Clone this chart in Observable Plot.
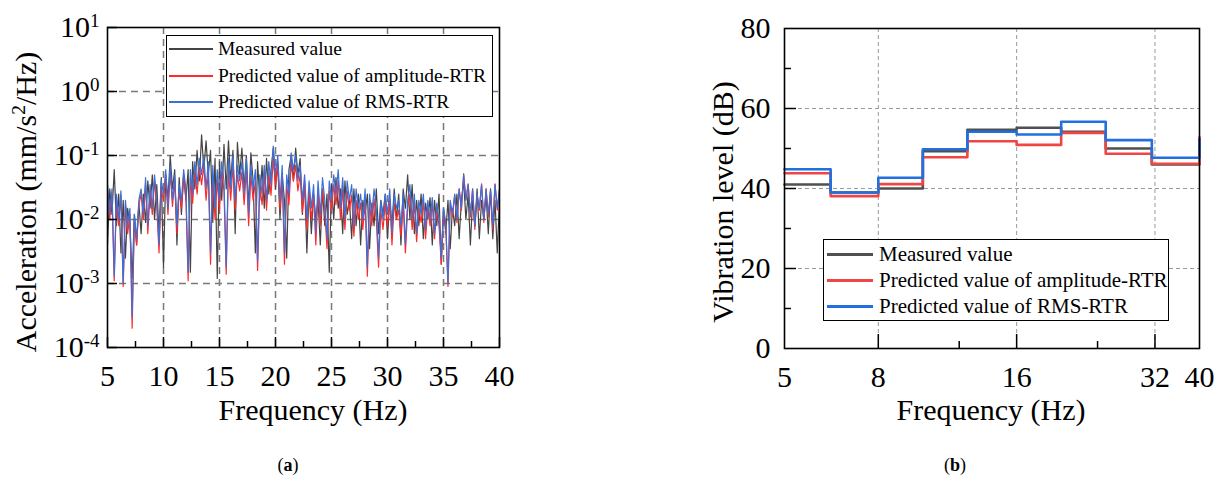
<!DOCTYPE html>
<html><head><meta charset="utf-8">
<script src="https://cdn.jsdelivr.net/npm/d3@7"></script>
<script src="https://cdn.jsdelivr.net/npm/@observablehq/plot@0.6"></script>
<style>
html,body{margin:0;padding:0;background:#fff;}
body{width:1229px;height:477px;position:relative;overflow:hidden;font-family:"Liberation Serif","Times New Roman",serif;color:#000;}
.abs{position:absolute;}
.c{transform:translate(-50%,-50%);white-space:nowrap;}
.legend{position:absolute;background:#fff;border:1.5px solid #000;box-sizing:border-box;}
.legend .sw{position:absolute;}
.legend .tx{position:absolute;white-space:nowrap;transform:translateY(-50%);}
sup{font-size:0.65em;vertical-align:0;position:relative;top:-0.55em;}
</style></head><body>
<div id="pa" class="abs" style="left:0;top:0"></div>
<div id="pb" class="abs" style="left:680px;top:0"></div>
<script>
// ---------- Panel (a): spectra, 5–40 Hz sampled every 0.2 Hz ----------
const freqStartA = 5, freqStepA = 0.2;
const measuredA = [
0.004,0.03,0.012,0.06,0.008, 0.025,0.003,0.02,0.0025,0.015,
0.008,0.0012,0.012,0.004,0.018, 0.006,0.025,0.009,0.04,0.015,
0.05,0.01,0.035,0.006,0.045, 0.0018,0.05,0.02,0.1,0.03,
0.06,0.004,0.045,0.012,0.05, 0.02,0.06,0.0015,0.08,0.03,
0.12,0.04,0.21,0.06,0.17, 0.05,0.12,0.009,0.09,0.0012,
0.08,0.02,0.15,0.03,0.17, 0.04,0.12,0.006,0.16,0.05,
0.13,0.03,0.1,0.015,0.11, 0.04,0.003,0.08,0.02,0.07,
0.015,0.09,0.025,0.06,0.13, 0.03,0.08,0.01,0.05,0.02,
0.0025,0.06,0.1,0.04,0.13, 0.05,0.09,0.012,0.04,0.003,
0.03,0.006,0.025,0.01,0.02, 0.004,0.03,0.008,0.025,0.0015,
0.035,0.01,0.045,0.015,0.03, 0.006,0.04,0.012,0.02,0.005,
0.03,0.008,0.025,0.004,0.02, 0.012,0.025,0.0035,0.018,0.008,
0.03,0.006,0.02,0.012,0.025, 0.005,0.02,0.008,0.03,0.01,
0.025,0.004,0.03,0.015,0.05, 0.01,0.035,0.006,0.02,0.008,
0.025,0.005,0.018,0.01,0.022, 0.004,0.02,0.008,0.025,0.002,
0.015,0.006,0.02,0.0035,0.015, 0.008,0.025,0.005,0.02,0.04,
0.01,0.025,0.004,0.02,0.008, 0.03,0.005,0.02,0.01,0.025,
0.006,0.03,0.005,0.02,0.003, 0.02];
const amplitudeA = [
0.028,0.01,0.025,0.0011,0.02, 0.008,0.024,0.0009,0.017,0.006,
0.012,0.0002,0.01,0.004,0.017, 0.025,0.01,0.035,0.006,0.028,
0.012,0.04,0.016,0.003,0.03, 0.02,0.045,0.012,0.055,0.016,
0.04,0.006,0.028,0.015,0.045, 0.022,0.0011,0.045,0.018,0.06,
0.025,0.065,0.035,0.07,0.02, 0.055,0.002,0.05,0.01,0.04,
0.014,0.055,0.028,0.0014,0.06, 0.02,0.07,0.014,0.05,0.028,
0.055,0.017,0.06,0.008,0.05, 0.02,0.04,0.0016,0.035,0.017,
0.05,0.014,0.055,0.024,0.09, 0.035,0.07,0.014,0.05,0.002,
0.035,0.017,0.075,0.04,0.07, 0.028,0.05,0.013,0.035,0.007,
0.028,0.01,0.024,0.004,0.028, 0.008,0.03,0.014,0.0035,0.028,
0.014,0.035,0.017,0.04,0.01, 0.03,0.007,0.028,0.014,0.024,
0.0055,0.02,0.01,0.018,0.007, 0.021,0.0013,0.018,0.008,0.021,
0.01,0.0018,0.014,0.007,0.018, 0.008,0.021,0.004,0.018,0.01,
0.014,0.0055,0.018,0.003,0.015, 0.025,0.007,0.018,0.0045,0.015,
0.009,0.019,0.005,0.016,0.008, 0.018,0.005,0.015,0.008,0.002,
0.013,0.008,0.0009,0.018,0.011, 0.024,0.009,0.03,0.014,0.052,
0.02,0.036,0.011,0.03,0.007, 0.024,0.014,0.036,0.009,0.03,
0.011,0.028,0.007,0.036,0.014, 0.03];
const rmsA = [
0.035,0.012,0.03,0.0013,0.025, 0.01,0.028,0.001,0.02,0.008,
0.015,0.0003,0.012,0.005,0.02, 0.03,0.012,0.045,0.008,0.035,
0.015,0.05,0.02,0.004,0.04, 0.025,0.06,0.015,0.07,0.02,
0.05,0.008,0.035,0.02,0.06, 0.03,0.0015,0.06,0.025,0.08,
0.035,0.09,0.05,0.1,0.03, 0.08,0.003,0.07,0.015,0.06,
0.02,0.08,0.04,0.0018,0.09, 0.03,0.1,0.02,0.07,0.04,
0.08,0.025,0.09,0.012,0.07, 0.03,0.06,0.0022,0.05,0.025,
0.07,0.02,0.08,0.035,0.14, 0.05,0.1,0.02,0.07,0.003,
0.05,0.025,0.11,0.06,0.1, 0.04,0.07,0.02,0.05,0.01,
0.04,0.015,0.035,0.006,0.04, 0.012,0.045,0.02,0.005,0.04,
0.02,0.05,0.025,0.06,0.015, 0.045,0.01,0.04,0.02,0.035,
0.008,0.03,0.015,0.025,0.01, 0.03,0.0018,0.025,0.012,0.03,
0.015,0.0025,0.02,0.01,0.025, 0.012,0.03,0.006,0.025,0.015,
0.02,0.008,0.025,0.004,0.02, 0.035,0.01,0.025,0.006,0.02,
0.012,0.025,0.007,0.02,0.01, 0.022,0.006,0.018,0.01,0.0025,
0.015,0.009,0.001,0.02,0.012, 0.025,0.01,0.03,0.015,0.05,
0.02,0.035,0.012,0.03,0.008, 0.025,0.015,0.035,0.01,0.03,
0.012,0.028,0.008,0.035,0.015, 0.03];
const freqA = measuredA.map((_, i) => +(freqStartA + freqStepA * i).toFixed(1));
const xTicksA = [5, 10, 15, 20, 25, 30, 35, 40];
const xMinorA = [7.5, 12.5, 17.5, 22.5, 27.5, 32.5, 37.5];
const yTicksA = [1e-4, 1e-3, 1e-2, 1e-1, 1, 10];
const yTickExpA = ["-4", "-3", "-2", "-1", "0", "1"];

// ---------- Panel (b): one-third octave band levels ----------
const bandEdgesB = [5, 6.3, 8, 10, 12.5, 16, 20, 25, 31.5, 40];
const measuredB  = [41.0, 39.0, 40.0, 49.3, 54.7, 55.2, 54.2, 50.0, 46.0, 46.0];
const amplitudeB = [43.8, 38.1, 41.1, 47.8, 51.8, 50.9, 53.9, 48.7, 46.2, 52.8];
const rmsB       = [44.8, 39.0, 42.7, 49.8, 54.2, 53.5, 56.7, 52.1, 47.7, 52.3];
const xTicksB = [5, 8, 16, 32, 40];
const xTickLabelsB = ["5", "8", "16", "32", "40"];
const xMinorB = [12, 24];
const yTicksB = [0, 20, 40, 60, 80];
const yMinorB = [10, 30, 50, 70];

const seriesNames = ["Measured value", "Predicted value of amplitude-RTR", "Predicted value of RMS-RTR"];
const colorsA = ["#444444", "#ff2a2a", "#3d6fd6"];
const colorsB = ["#505050", "#f04545", "#2070e0"];
const FONT = '"Liberation Serif","Times New Roman",serif';

// ---------- Plot (a) ----------
const plotA = Plot.plot({
  width: 520, height: 430,
  marginLeft: 107, marginRight: 21, marginTop: 27, marginBottom: 83,
  style: {fontFamily: FONT, fontSize: "30px", color: "#000", background: "transparent", overflow: "visible"},
  x: {domain: [5, 40]},
  y: {type: "log", domain: [1e-4, 10]},
  marks: [
    Plot.ruleX(xTicksA.slice(1, -1), {stroke: "#7a7a7a", strokeWidth: 1.5, strokeDasharray: "7,5"}),
    Plot.ruleY(yTicksA.slice(1, -1), {stroke: "#7a7a7a", strokeWidth: 1.5, strokeDasharray: "7,5"}),
    Plot.line(measuredA, {x: freqA, y: Plot.identity, stroke: colorsA[0], strokeWidth: 1.2}),
    Plot.line(amplitudeA, {x: freqA, y: Plot.identity, stroke: colorsA[1], strokeWidth: 1.2}),
    Plot.line(rmsA, {x: freqA, y: Plot.identity, stroke: colorsA[2], strokeWidth: 1.2}),
    Plot.ruleX(xTicksA, {insetTop: 310, stroke: "#000", strokeWidth: 1.5}),
    Plot.ruleX(xMinorA, {insetTop: 314, stroke: "#000", strokeWidth: 1.5}),
    Plot.ruleY(yTicksA, {insetRight: 382, stroke: "#000", strokeWidth: 1.5}),
    Plot.frame({stroke: "#000", strokeWidth: 1.6}),
    Plot.axisX(xTicksA, {tickSize: 0, tickPadding: 17, fontSize: 30, label: null, tickFormat: d => String(d)}),
    Plot.axisY(yTicksA, {tickSize: 0, tickPadding: 8, fontSize: 30, label: null,
      tickFormat: (d, i) => "10^" + yTickExpA[yTicksA.indexOf(d)]})
  ]
});
document.getElementById("pa").appendChild(plotA);
d3.select(plotA).selectAll('g[aria-label="y-axis tick label"] text').each(function() {
  const parts = this.textContent.split("^");
  this.textContent = "";
  d3.select(this).append("tspan").text(parts[0]);
  d3.select(this).append("tspan").attr("dy", "-0.55em").attr("font-size", "19px").text(parts[1]);
});

// ---------- Plot (b) ----------
const plotB = Plot.plot({
  width: 549, height: 430,
  marginLeft: 104, marginRight: 30, marginTop: 28, marginBottom: 82,
  style: {fontFamily: FONT, fontSize: "30px", color: "#000", background: "transparent", overflow: "visible"},
  x: {type: "log", domain: [5, 40], axis: null},
  y: {domain: [0, 80]},
  marks: [
    Plot.ruleX([8, 16, 32], {stroke: "#9a9a9a", strokeWidth: 1, strokeDasharray: "4,3"}),
    Plot.ruleY([20, 40, 60], {stroke: "#9a9a9a", strokeWidth: 1, strokeDasharray: "4,3"}),
    Plot.line(measuredB, {x: bandEdgesB, y: Plot.identity, curve: "step-after", stroke: colorsB[0], strokeWidth: 2.6}),
    Plot.line(amplitudeB, {x: bandEdgesB, y: Plot.identity, curve: "step-after", stroke: colorsB[1], strokeWidth: 2.6}),
    Plot.line(rmsB, {x: bandEdgesB, y: Plot.identity, curve: "step-after", stroke: colorsB[2], strokeWidth: 2.6}),
    Plot.ruleX([8, 16, 32], {insetTop: 306, stroke: "#000", strokeWidth: 1.5}),
    Plot.ruleX(xMinorB, {insetTop: 313, stroke: "#000", strokeWidth: 1.5}),
    Plot.ruleY(yMinorB, {insetRight: 408, stroke: "#000", strokeWidth: 1.5}),
    Plot.ruleY([20, 40, 60], {insetRight: 403, stroke: "#000", strokeWidth: 1.5}),
    Plot.frame({stroke: "#000", strokeWidth: 1.6}),
    Plot.text(xTicksB, {x: Plot.identity, frameAnchor: "bottom", lineAnchor: "top", dy: 17,
      text: (d, i) => xTickLabelsB[i], fontSize: 30, fill: "#000"}),
    Plot.axisY(yTicksB, {tickSize: 0, tickPadding: 14, fontSize: 30, label: null, tickFormat: d => String(d)})
  ]
});
document.getElementById("pb").appendChild(plotB);

// ---------- HTML text: titles, legends, captions ----------
function addText(html, x, y, size, extra) {
  const d = document.createElement("div");
  d.className = "abs c";
  d.style.left = x + "px"; d.style.top = y + "px"; d.style.fontSize = size + "px";
  if (extra) d.style.transform = "translate(-50%,-50%) " + extra;
  d.innerHTML = html;
  document.body.appendChild(d);
}
addText("Frequency (Hz)", 313, 410, 30);
addText("Frequency (Hz)", 991, 410, 30);
addText("Acceleration (mm/s<sup>2</sup>/Hz)", 26, 202, 30, "rotate(-90deg)");
addText("Vibration level (dB)", 723, 202, 30, "rotate(-90deg)");
addText("(<b>a</b>)", 288, 465, 18);
addText("(<b>b</b>)", 955, 465, 18);

function addLegend(left, top, w, h, rows, swX, swW, swH, txX, size, colors) {
  const box = document.createElement("div");
  box.className = "legend";
  box.style.left = left + "px"; box.style.top = top + "px";
  box.style.width = w + "px"; box.style.height = h + "px";
  seriesNames.forEach((name, i) => {
    const sw = document.createElement("div");
    sw.className = "sw";
    sw.style.left = swX + "px"; sw.style.width = swW + "px";
    sw.style.top = (rows[i] - swH / 2) + "px"; sw.style.height = swH + "px";
    sw.style.background = colors[i];
    box.appendChild(sw);
    const tx = document.createElement("div");
    tx.className = "tx";
    tx.style.left = txX + "px"; tx.style.top = rows[i] + "px"; tx.style.fontSize = size + "px";
    tx.textContent = name;
    box.appendChild(tx);
  });
  document.body.appendChild(box);
}
addLegend(166, 35, 327, 82, [13, 40, 66], 2, 44, 1.6, 51, 19.5, colorsA);
addLegend(823, 239, 346, 82, [14, 40, 66], 3, 46, 3, 55, 21, colorsB);
</script>
</body></html>
